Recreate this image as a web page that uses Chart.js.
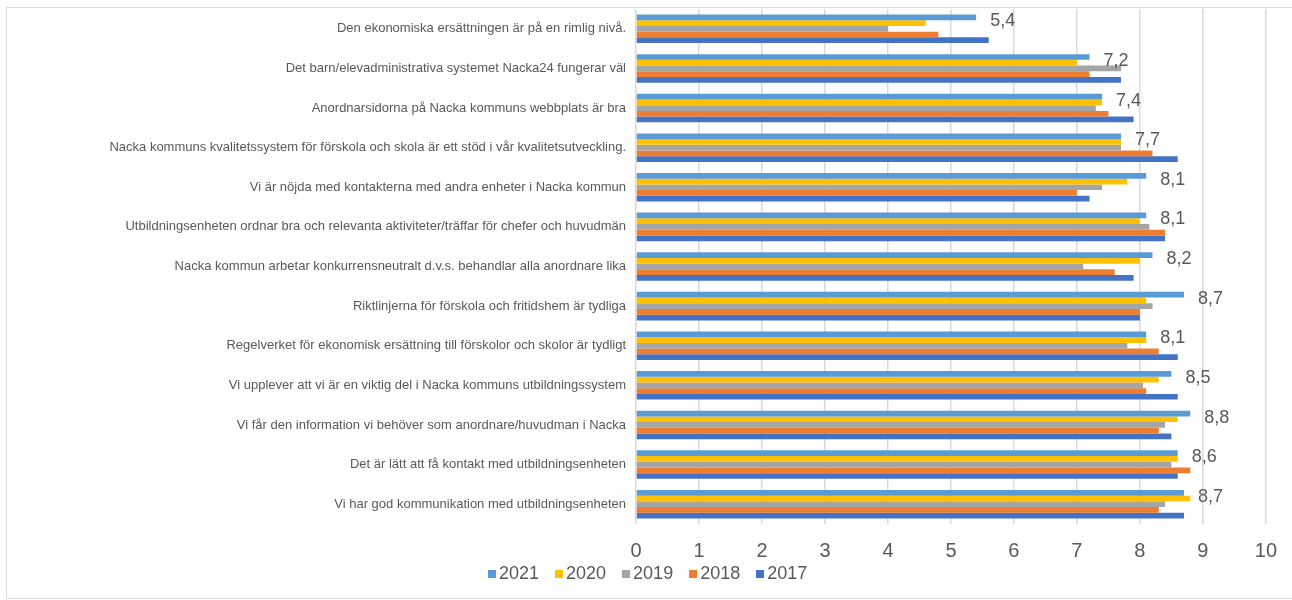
<!DOCTYPE html>
<html lang="sv">
<head>
  <meta charset="UTF-8" />
  <title>Nacka enkät</title>
  <script src="https://cdn.jsdelivr.net/npm/chart.js@4.4.0/dist/chart.umd.min.js"></script>
  <style>
    body { margin: 0; background: #fff; }
    .frame { position: absolute; left: 6px; top: 7px; width: 1300px; height: 590px; border: 1px solid #d9d9d9; }
    .wrap { position: absolute; left: 0; top: 0; width: 1292px; height: 600px; }
    .legend { position: absolute; left: 488px; top: 563px; display: flex; gap: 16px;
      font-family: 'Liberation Sans', Arial, sans-serif; font-size: 18px; color: #595959; }
    .legend span.item { display: flex; align-items: center; }
    .legend i { display: inline-block; width: 8px; height: 8px; margin-right: 3px; }
  </style>
</head>
<body>
  <div class="frame"></div>
  <div class="wrap"><canvas id="chart" width="1292" height="600"></canvas></div>
  <div class="legend" id="legend"></div>
  <script>
    const FONT = "'Liberation Sans', Arial, sans-serif";
    const TEXT = '#595959';

    const categories = [
      'Den ekonomiska ersättningen är på en rimlig nivå.',
      'Det barn/elevadministrativa systemet Nacka24 fungerar väl',
      'Anordnarsidorna på Nacka kommuns webbplats är bra',
      'Nacka kommuns kvalitetssystem för förskola och skola är ett stöd i vår kvalitetsutveckling.',
      'Vi är nöjda med kontakterna med andra enheter i Nacka kommun',
      'Utbildningsenheten ordnar bra och relevanta aktiviteter/träffar för chefer och huvudmän',
      'Nacka kommun arbetar konkurrensneutralt d.v.s. behandlar alla anordnare lika',
      'Riktlinjerna för förskola och fritidshem är tydliga',
      'Regelverket för ekonomisk ersättning till förskolor och skolor är tydligt',
      'Vi upplever att vi är en viktig del i Nacka kommuns utbildningssystem',
      'Vi får den information vi behöver som anordnare/huvudman i Nacka',
      'Det är lätt att få kontakt med utbildningsenheten',
      'Vi har god kommunikation med utbildningsenheten'
    ];

    const y2021 = [5.4, 7.2, 7.4, 7.7, 8.1, 8.1, 8.2, 8.7, 8.1, 8.5, 8.8, 8.6, 8.7];
    const y2020 = [4.6, 7.0, 7.4, 7.7, 7.8, 8.0, 8.0, 8.1, 8.1, 8.3, 8.6, 8.6, 8.8];
    const y2019 = [4.0, 7.7, 7.3, 7.7, 7.4, 8.15, 7.1, 8.2, 7.8, 8.05, 8.4, 8.5, 8.4];
    const y2018 = [4.8, 7.2, 7.5, 8.2, 7.0, 8.4, 7.6, 8.0, 8.3, 8.1, 8.3, 8.8, 8.3];
    const y2017 = [5.6, 7.7, 7.9, 8.6, 7.2, 8.4, 7.9, 8.0, 8.6, 8.6, 8.5, 8.6, 8.7];

    const xTicks = [0, 1, 2, 3, 4, 5, 6, 7, 8, 9, 10];

    const series = [
      { label: '2021', data: y2021, color: '#5B9BD5' },
      { label: '2020', data: y2020, color: '#FFC000' },
      { label: '2019', data: y2019, color: '#A5A5A5' },
      { label: '2018', data: y2018, color: '#ED7D31' },
      { label: '2017', data: y2017, color: '#4472C4' }
    ];

    // value labels only for the latest year
    const valueLabels = {
      id: 'valueLabels',
      afterDatasetsDraw(chart) {
        const ctx = chart.ctx;
        const meta = chart.getDatasetMeta(0);
        ctx.save();
        ctx.font = '18px ' + FONT;
        ctx.fillStyle = TEXT;
        ctx.textAlign = 'left';
        ctx.textBaseline = 'middle';
        meta.data.forEach((bar, i) => {
          const txt = y2021[i].toFixed(1).replace('.', ',');
          ctx.fillText(txt, bar.x + 14, bar.y + 4);
        });
        ctx.restore();
      }
    };

    const chart = new Chart(document.getElementById('chart'), {
      type: 'bar',
      data: {
        labels: categories,
        datasets: series.map(s => ({
          label: s.label,
          data: s.data,
          backgroundColor: s.color,
          borderWidth: 0,
          barPercentage: 1.0,
          categoryPercentage: 0.72
        }))
      },
      options: {
        indexAxis: 'y',
        responsive: false,
        animation: false,
        layout: { padding: { left: 0, right: 23, top: 9, bottom: 0 } },
        plugins: {
          legend: { display: false },
          tooltip: { enabled: false }
        },
        scales: {
          x: {
            min: 0,
            max: 10,
            afterFit: s => { s.height = 76; },
            afterBuildTicks: s => { s.ticks = xTicks.map(v => ({ value: v })); },
            grid: { color: '#d9d9d9', lineWidth: 1.5, drawTicks: false },
            border: { display: false },
            ticks: { color: TEXT, font: { family: FONT, size: 20 }, padding: 15 }
          },
          y: {
            afterFit: s => { s.width = 636; s.paddingTop = 0; s.paddingBottom = 0; },
            grid: { display: false, drawTicks: false },
            border: { display: false },
            ticks: { color: TEXT, font: { family: FONT, size: 13 }, padding: 10, autoSkip: false }
          }
        }
      },
      plugins: [valueLabels]
    });

    // legend below the axis, built from the chart datasets
    const legendBox = document.getElementById('legend');
    chart.data.datasets.forEach(ds => {
      const item = document.createElement('span');
      item.className = 'item';
      item.innerHTML = '<i style="background:' + ds.backgroundColor + '"></i>' + ds.label;
      legendBox.appendChild(item);
    });
  </script>
</body>
</html>
